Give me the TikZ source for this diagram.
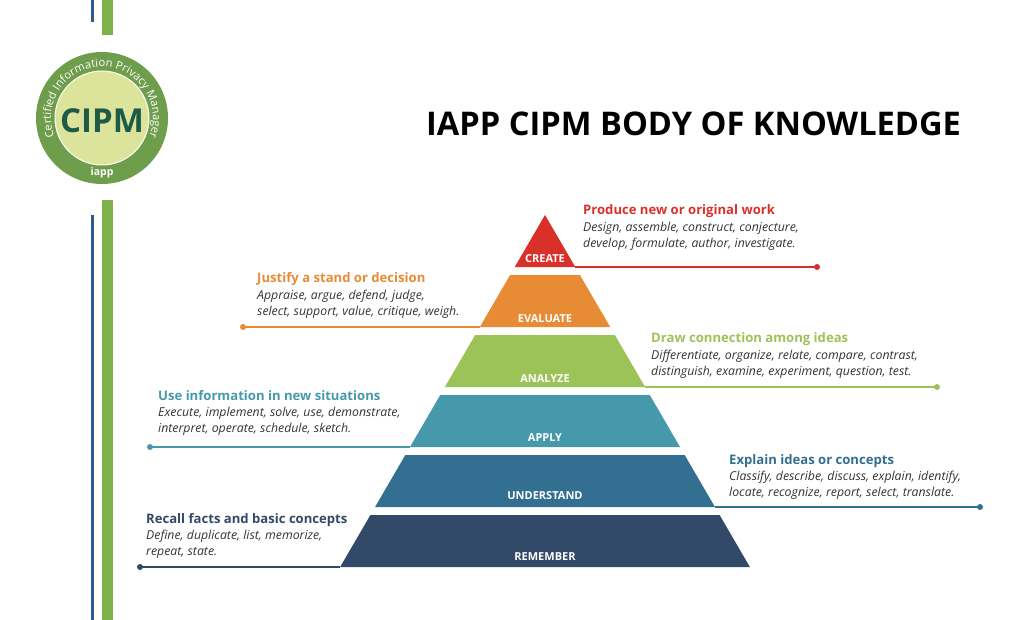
\documentclass[tikz,border=0pt]{standalone}
\usepackage{fontspec}
\setmainfont{Open Sans}
\usetikzlibrary{decorations.text}
\definecolor{cred}{HTML}{D9312A}
\definecolor{corange}{HTML}{E88B35}
\definecolor{cgreen}{HTML}{9CC358}
\definecolor{cteal}{HTML}{4699AB}
\definecolor{cblue}{HTML}{326F90}
\definecolor{cdark}{HTML}{324A67}
\definecolor{lgreen}{HTML}{7DB24B}
\definecolor{lblue}{HTML}{2E5B8E}
\definecolor{ring}{HTML}{6E9D4C}
\definecolor{inner}{HTML}{DCE49C}
\definecolor{cipm}{HTML}{1E5B47}
\definecolor{body}{HTML}{333333}
\tikzset{
 lvl/.style={font=\bfseries\fontsize{11}{11}\selectfont, text=white},
 head/.style={anchor=north west, font=\bfseries\fontsize{13.1}{14}\selectfont, inner sep=0},
 desc/.style={anchor=north west, font=\itshape\fontsize{12.3}{16}\selectfont, text=body, align=left, inner sep=0},
 dotline/.style={line width=1.4pt},
}
\begin{document}
\begin{tikzpicture}[x=1pt,y=-1pt]
\useasboundingbox (0,0) rectangle (1024,620);
% side bars
\fill[lgreen] (102,0) rectangle (113,35);
\fill[lgreen] (102,200) rectangle (113,620);
\fill[lblue] (90.5,0) rectangle (93.5,22);
\fill[lblue] (90.5,215) rectangle (93.5,620);
% logo
\node[circle, fill=ring, minimum size=132, inner sep=0] (logo) at (102,118) {};
\node[circle, fill=inner, draw=white, line width=1pt, minimum size=94, inner sep=0] (logoin) at (102,118) {};
\node[font=\bfseries\fontsize{33}{33}\selectfont, text=cipm] (cipmt) at (102,121) {CIPM};
\node[font=\bfseries\fontsize{10.5}{10}\selectfont, text=white] (iapp) at (102,173) {iapp};
\begin{scope}[shift={(102,118)}, yscale=-1]
\path[decorate, decoration={text along path, text align=center, text={|\fontsize{11.2}{11}\selectfont\color{white}|Certified Information Privacy Manager}}]
 (200:51) arc[start angle=200, end angle=-20, radius=51];
\end{scope}
% title
\node[anchor=west, font=\bfseries\fontsize{32.6}{33}\selectfont, inner sep=0] (title) at (426,124) {IAPP CIPM BODY OF KNOWLEDGE};
% pyramid
\def\L#1{545-0.582*(#1-215)}
\def\R#1{545+0.582*(#1-215)}
\fill[cred] (545,215) -- ({\R{267}},267) -- ({\L{267}},267) -- cycle;
\foreach \t/\c in {275/corange,335/cgreen,395/cteal,455/cblue,515/cdark}{
 \pgfmathsetmacro\b{\t+52}
 \fill[\c] ({\L{\t}},\t) -- ({\R{\t}},\t) -- ({\R{\b}},\b) -- ({\L{\b}},\b) -- cycle;
}
\node[lvl] (create) at (545,259) {CREATE};
\node[lvl] (evaluate) at (545,319) {EVALUATE};
\node[lvl] (analyze) at (545,379) {ANALYZE};
\node[lvl] (apply) at (545,438) {APPLY};
\node[lvl] (understand) at (545,496) {UNDERSTAND};
\node[lvl] (remember) at (545,557) {REMEMBER};
% connector lines
\coordinate (c1) at (817,267); \coordinate (c1s) at ({\R{267}},267);
\coordinate (c2) at (243,327); \coordinate (c2s) at ({\L{327}},327);
\coordinate (c3) at (937,387); \coordinate (c3s) at ({\R{387}},387);
\coordinate (c4) at (150,447); \coordinate (c4s) at ({\L{447}},447);
\coordinate (c5) at (980,507); \coordinate (c5s) at ({\R{507}},507);
\coordinate (c6) at (140,567); \coordinate (c6s) at ({\L{567}},567);
\foreach \a/\c in {1/cred,2/corange,3/cgreen,4/cteal,5/cblue,6/cdark}{
 \draw[dotline,\c] (c\a s) -- (c\a);
 \fill[\c] (c\a) circle (3);
}
% texts
\node[head, text=cred] (h1) at (583,204) {Produce new or original work};
\node[desc] (d1) at (583,222) {Design, assemble, construct, conjecture,\\develop, formulate, author, investigate.};
\node[head, text=corange] (h2) at (257,272) {Justify a stand or decision};
\node[desc] (d2) at (257,290) {Appraise, argue, defend, judge,\\select, support, value, critique, weigh.};
\node[head, text=cgreen] (h3) at (651,332) {Draw connection among ideas};
\node[desc] (d3) at (651,350) {Differentiate, organize, relate, compare, contrast,\\distinguish, examine, experiment, question, test.};
\node[head, text=cteal] (h4) at (158,390) {Use information in new situations};
\node[desc] (d4) at (158,407) {Execute, implement, solve, use, demonstrate,\\interpret, operate, schedule, sketch.};
\node[head, text=cblue] (h5) at (729,454) {Explain ideas or concepts};
\node[desc] (d5) at (729,471) {Classify, describe, discuss, explain, identify,\\locate, recognize, report, select, translate.};
\node[head, text=cdark] (h6) at (146,513) {Recall facts and basic concepts};
\node[desc] (d6) at (146,530) {Define, duplicate, list, memorize,\\repeat, state.};
\end{tikzpicture}
\end{document}
